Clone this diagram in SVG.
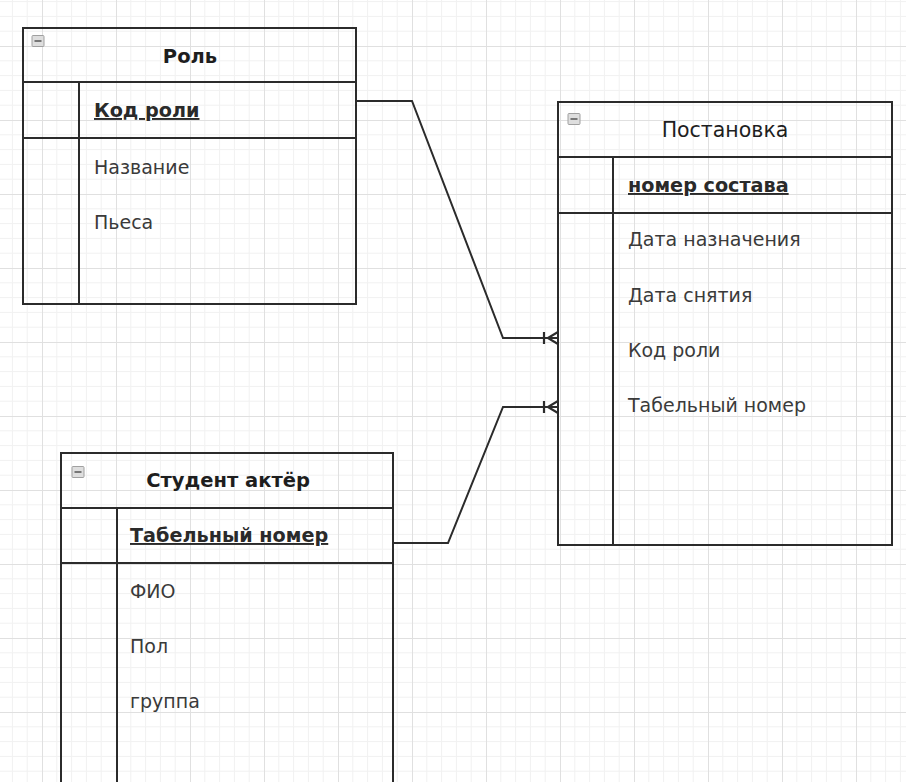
<svg xmlns="http://www.w3.org/2000/svg" width="906" height="782" viewBox="0 0 906 782">
<style>
.tbl{fill:none;stroke:#2b2b2b;stroke-width:2}
.ln{stroke:#2b2b2b;stroke-width:2;fill:none}
.hd{font-family:"DejaVu Sans",Verdana,sans-serif;font-size:19.5px;font-weight:bold;fill:#1e1e1e;text-anchor:middle}
.hdn{font-family:"DejaVu Sans",Verdana,sans-serif;font-size:20.5px;fill:#1e1e1e;text-anchor:middle}
.pk{font-family:"DejaVu Sans",Verdana,sans-serif;font-size:19.2px;font-weight:bold;fill:#2a2a2a;text-decoration:underline}
.at{font-family:"DejaVu Sans",Verdana,sans-serif;font-size:19px;fill:#3a3a3a}
.ic{fill:#dedede;stroke:#a0a0a0;stroke-width:1}
.icm{stroke:#555;stroke-width:1.5}
.conn{fill:none;stroke:#2b2b2b;stroke-width:2}
</style>
<defs>
<pattern id="grid" x="42" y="46" width="74" height="74" patternUnits="userSpaceOnUse">
<path d="M14.8 0V74M29.6 0V74M44.4 0V74M59.2 0V74M0 14.8H74M0 29.6H74M0 44.4H74M0 59.2H74" stroke="#f1f1f1" stroke-width="1"/>
<path d="M0.5 0V74M0 0.5H74" stroke="#e0e0e0" stroke-width="1"/>
</pattern>
<marker id="many" viewBox="0 0 16 14" refX="16" refY="7" markerWidth="16" markerHeight="14" markerUnits="userSpaceOnUse" orient="auto">
<path d="M2 1V13M5 7H16M6 7L16 1M6 7L16 13" fill="none" stroke="#2b2b2b" stroke-width="2.2"/>
</marker>
</defs>
<rect width="906" height="782" fill="#ffffff"/>
<rect width="906" height="782" fill="url(#grid)"/>

<g id="connectors">
<path class="conn" d="M356 101H412L503 338H558" marker-end="url(#many)"/>
<path class="conn" d="M393 543H448L503 407H558" marker-end="url(#many)"/>
</g>

<g id="role">
<rect class="tbl" x="23" y="28" width="333" height="276"/>
<path class="ln" d="M23 82H356M23 138H356M79 82V304"/>
<rect class="ic" x="32" y="35.5" width="12" height="11" rx="1"/>
<path class="icm" d="M34.5 41H41.5"/>
<text class="hd" x="190" y="63">Роль</text>
<text class="pk" x="94" y="117">Код роли</text>
<text class="at" x="94" y="174">Название</text>
<text class="at" x="94" y="229">Пьеса</text>
</g>

<g id="postanovka">
<rect class="tbl" x="558" y="102" width="334" height="443"/>
<path class="ln" d="M558 157H892M558 213H892M613 157V545"/>
<rect class="ic" x="568" y="113.5" width="12" height="11" rx="1"/>
<path class="icm" d="M570.5 119H577.5"/>
<text class="hdn" x="725" y="137">Постановка</text>
<text class="pk" x="628" y="192">номер состава</text>
<text class="at" x="628" y="246">Дата назначения</text>
<text class="at" x="628" y="302">Дата снятия</text>
<text class="at" x="628" y="357">Код роли</text>
<text class="at" x="628" y="412">Табельный номер</text>
</g>

<g id="student">
<path class="tbl" d="M61 790V453H393V790"/>
<path class="ln" d="M61 508H393M61 563H393M117 508V790"/>
<rect class="ic" x="72" y="466.5" width="12" height="11" rx="1"/>
<path class="icm" d="M74.5 472H81.5"/>
<text class="hd" x="228" y="487">Студент актёр</text>
<text class="pk" x="130" y="542">Табельный номер</text>
<text class="at" x="130" y="598">ФИО</text>
<text class="at" x="130" y="653">Пол</text>
<text class="at" x="130" y="708">группа</text>
</g>
</svg>
